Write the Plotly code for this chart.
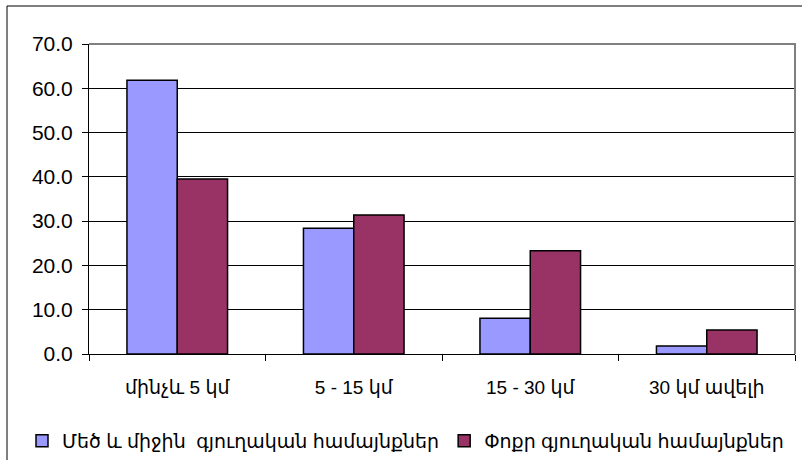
import plotly.graph_objects as go

categories = ["մինչև 5 կմ", "5 - 15 կմ", "15 - 30 կմ", "30 կմ ավելի"]
series_names = ["Մեծ և միջին  գյուղական համայնքներ", "Փոքր գյուղական համայնքներ"]
large_medium = [61.8, 28.4, 8.1, 1.8]
small = [39.5, 31.4, 23.3, 5.4]
y_ticks = [0, 10, 20, 30, 40, 50, 60, 70]

FONT = "Arial, 'Liberation Sans', 'DejaVu Sans', sans-serif"

fig = go.Figure()
fig.add_trace(go.Bar(x=categories, y=large_medium, name=series_names[0],
                     marker=dict(color="#9999FF", line=dict(color="black", width=1.5))))
fig.add_trace(go.Bar(x=categories, y=small, name=series_names[1],
                     marker=dict(color="#993366", line=dict(color="black", width=1.5))))

W, H = 802, 460
L, R, T, B = 89, 7, 44, 106
pw, ph = W - L - R, H - T - B

def px_to_paper_x(px):
    return (px - L) / pw

def px_to_paper_y(py):
    return (H - B - py) / ph

fig.update_layout(
    width=W, height=H,
    margin=dict(l=L, r=R, t=T, b=B, pad=0, autoexpand=False),
    paper_bgcolor="white", plot_bgcolor="white",
    font=dict(family=FONT, size=20, color="black"),
    barmode="group", bargap=0.43, bargroupgap=0,
    showlegend=True,
    legend=dict(orientation="h", x=px_to_paper_x(22), xanchor="left",
                y=px_to_paper_y(441), yanchor="middle",
                font=dict(size=19), itemwidth=30, tracegroupgap=0,
                bgcolor="rgba(0,0,0,0)"),
    xaxis=dict(showline=True, linecolor="black", linewidth=1, automargin=False,
               ticks="outside", ticklen=6, tickcolor="black", tickson="boundaries",
               showgrid=False, tickfont=dict(size=19), ticklabelstandoff=16),
    yaxis=dict(range=[0, 70], tickvals=y_ticks, tickformat=".1f", automargin=False,
               showline=True, linecolor="black", linewidth=1,
               ticks="outside", ticklen=6, tickcolor="black",
               showgrid=True, gridcolor="black", gridwidth=1,
               zeroline=False, tickfont=dict(size=21), ticklabelstandoff=5),
    shapes=[
        dict(type="path", xref="paper", yref="paper",
             path="M 0,1 L 1,1 L 1,0", line=dict(color="#808080", width=2), layer="above"),
        dict(type="rect", xref="paper", yref="paper",
             x0=px_to_paper_x(7), x1=px_to_paper_x(830),
             y0=px_to_paper_y(490), y1=px_to_paper_y(6),
             line=dict(color="black", width=1), layer="below"),
    ],
)

fig.write_html("out.html", config={"displayModeBar": False},
               post_script="document.body.style.margin='0';document.body.style.overflow='hidden';")
